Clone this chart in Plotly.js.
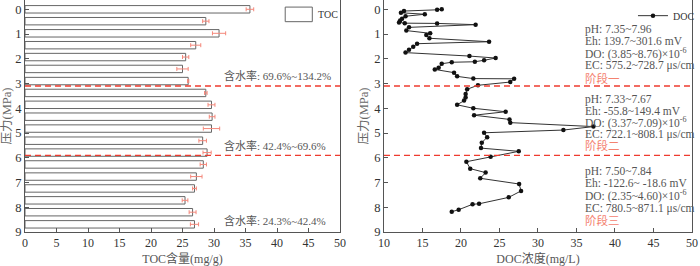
<!DOCTYPE html>
<html>
<head>
<meta charset="utf-8">
<script src="https://cdn.plot.ly/plotly-3.0.1.min.js"></script>
<style>html,body{margin:0;padding:0;background:#fff;}#chart{width:700px;height:266px;}</style>
</head>
<body>
<div id="chart"></div>
<script>
// ---- data ----
const tocPressure = [0.00,0.48,0.97,1.45,1.93,2.41,2.90,3.38,3.86,4.34,4.82,5.31,5.79,6.27,6.76,7.24,7.72,8.20,8.69];
const tocValue    = [35.7,28.7,30.8,27.1,25.5,25.0,25.9,28.7,29.6,29.7,29.6,28.2,28.9,28.3,27.2,26.9,25.4,26.6,26.9];
const tocError    = [0.6,0.5,1.05,0.8,0.5,0.9,0.1,0.2,0.55,0.45,1.3,0.6,0.65,0.5,0.9,0.3,0.45,0.55,0.65];

const docPressure = [0.00,0.02,0.07,0.14,0.20,0.28,0.38,0.45,0.53,0.56,0.57,0.62,0.73,0.86,0.97,1.04,1.17,1.31,1.39,1.51,1.63,1.75,1.89,1.97,2.06,2.12,2.14,2.20,2.36,2.43,2.56,2.71,2.80,2.81,2.94,3.07,3.23,3.42,3.56,3.69,3.86,4.00,4.14,4.28,4.45,4.58,4.74,4.88,4.99,5.17,5.39,5.61,5.74,5.96,6.16,6.44,6.60,6.83,7.06,7.34,7.60,7.86,7.88,8.10,8.18];
const docValue    = [17.5,16.9,12.6,12.2,15.3,12.8,12.35,12.1,11.95,12.7,16.9,21.9,13.25,12.9,16.0,15.5,15.9,23.65,14.3,13.8,13.25,12.8,21.1,24.5,23.0,21.8,18.8,17.5,17.1,16.6,19.1,19.5,21.6,26.9,26.4,22.2,20.8,20.6,20.6,20.4,19.5,21.6,25.8,21.7,26.3,26.4,37.2,33.3,23.0,23.4,22.7,22.6,27.5,23.85,20.7,21.2,23.2,22.5,27.55,27.8,26.2,22.35,21.5,19.7,18.8];

const stageBoundaries = [3.1, 5.9];
const waterContent = ['含水率: 69.6%~134.2%','含水率: 42.4%~69.6%','含水率: 24.3%~42.4%'];
const stageInfo = [
  ['pH: 7.35~7.96','Eh: 139.7~301.6 mV','DO: (3.85~8.76)×10<sup>-6</sup>','EC: 575.2~728.7 μs/cm','阶段一'],
  ['pH: 7.33~7.67','Eh: -55.8~149.4 mV','DO: (3.37~7.09)×10<sup>-6</sup>','EC: 722.1~808.1 μs/cm','阶段二'],
  ['pH: 7.50~7.84','Eh: -122.6~ -18.6 mV','DO: (2.35~4.60)×10<sup>-6</sup>','EC: 780.5~871.1 μs/cm','阶段三']
];

// ---- styles ----
const serif = 'Liberation Serif, Noto Sans CJK SC, serif';
const axisColor = '#555';
const red = '#ee3b2f';
const salmon = '#f4826f';
const textGray = '#555';

const traces = [
  {
    type: 'bar', orientation: 'h', name: 'TOC',
    x: tocValue, y: tocPressure, width: 0.3,
    marker: {color: '#ffffff', line: {color: '#666', width: 1}},
    error_x: {type: 'data', array: tocError, visible: true, color: '#f4877a', thickness: 1, width: 2},
    xaxis: 'x', yaxis: 'y', showlegend: false
  },
  {
    type: 'scatter', mode: 'lines+markers', name: 'DOC',
    x: docValue, y: docPressure,
    line: {color: '#333', width: 1},
    marker: {color: '#111', size: 4.5},
    xaxis: 'x2', yaxis: 'y2', showlegend: true
  }
];

function xAx(domain, range, title, anchor) {
  return {
    domain: domain, range: range, dtick: 5, anchor: anchor,
    ticks: 'inside', ticklen: 4, tickcolor: axisColor,
    showline: true, linecolor: axisColor, linewidth: 1, mirror: false,
    showgrid: false, zeroline: false,
    tickfont: {family: serif, size: 12, color: '#333'},
    title: {text: title, font: {family: serif, size: 12, color: '#555'}, standoff: 6}
  };
}
function yAx(anchor) {
  return {
    domain: [0, 1], range: [9, -0.376], dtick: 1, anchor: anchor,
    ticks: 'inside', ticklen: 4, tickcolor: axisColor,
    showline: true, linecolor: axisColor, linewidth: 1, mirror: true,
    showgrid: false, zeroline: false,
    tickfont: {family: serif, size: 12.5, color: '#333'},
    title: {text: '压力(MPa)', font: {family: serif, size: 12.5, color: '#666'}, standoff: 2}
  };
}

const shapes = [];
stageBoundaries.forEach(b => {
  ['x', 'x2'].forEach((xa, i) => {
    shapes.push({type: 'line', xref: xa + ' domain', yref: i ? 'y2' : 'y', x0: 0, x1: 1, y0: b, y1: b,
      line: {color: red, width: 1.3, dash: '6px,4px'}});
  });
});
// TOC legend box
shapes.push({type: 'rect', xref: 'x', yref: 'y', x0: 41.3, x1: 45.6, y0: -0.09, y1: 0.5,
  line: {color: '#666', width: 1}, fillcolor: '#fff'});

const annotations = [];
annotations.push({xref: 'x', yref: 'y', x: 46.2, y: 0.22, text: 'TOC', showarrow: false, xanchor: 'left',
  font: {family: serif, size: 10, color: '#333'}});
const wcY = [2.68, 5.49, 8.52];
waterContent.forEach((t, i) => {
  annotations.push({xref: 'x', yref: 'y', x: 31.3, y: wcY[i], text: t, showarrow: false, xanchor: 'left',
    font: {family: serif, size: 11, color: textGray}});
});
const infoY = [
  [0.80, 1.29, 1.78, 2.28, 2.79],
  [3.63, 4.10, 4.57, 5.05, 5.49],
  [6.56, 7.03, 7.53, 8.03, 8.52]
];
stageInfo.forEach((lines, s) => {
  lines.forEach((t, j) => {
    annotations.push({xref: 'x2', yref: 'y2', x: 35.8, y: infoY[s][j], text: t, showarrow: false, xanchor: 'left',
      font: {family: serif, size: 11.5, color: j === 4 ? salmon : textGray}});
  });
});

const layout = {
  width: 700, height: 266,
  margin: {l: 25, r: 8, t: 0, b: 34},
  paper_bgcolor: '#fff', plot_bgcolor: '#fff',
  xaxis: xAx([0, 0.4723], [0, 50], 'TOC含量(mg/g)', 'y'),
  yaxis: yAx('x'),
  xaxis2: xAx([0.5382, 1], [10, 50], 'DOC浓度(mg/L)', 'y2'),
  yaxis2: yAx('x2'),
  showlegend: true,
  legend: {x: 0.9115, y: 0.995, xanchor: 'left', yanchor: 'top', bgcolor: 'rgba(0,0,0,0)',
    font: {family: serif, size: 10, color: '#333'}, itemwidth: 30, tracegroupgap: 0},
  shapes: shapes,
  annotations: annotations,
  bargap: 0
};

Plotly.newPlot('chart', traces, layout, {displayModeBar: false, staticPlot: true});
</script>
</body>
</html>
